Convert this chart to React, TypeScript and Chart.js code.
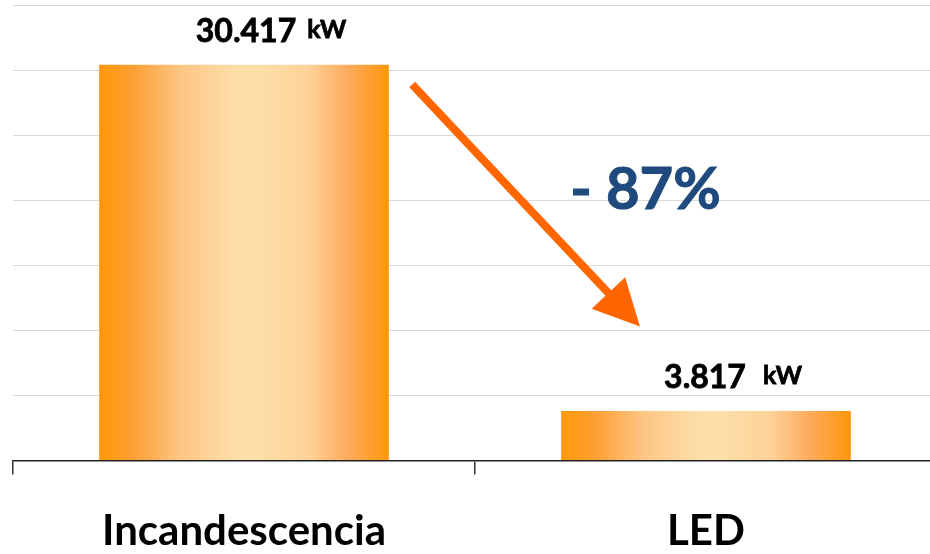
import React, { useEffect, useRef } from "react";
import { Chart, registerables } from "chart.js";

Chart.register(...registerables);

const categories = ["Incandescencia", "LED"];
const powerKW = [30.417, 3.817];
const unitLabel = "kW";
const yMax = 35;
const yStep = 5;

// Annotation anchors in data space (category index, value)
const arrowFrom = [0.364, 28.9];
const arrowTo = [0.857, 10.3];
const percentAnchor = [0.706, 19.3];

const FONT = "Lato, 'Open Sans', sans-serif";
const BAR_PCT = 0.627;
const ARROW_COLOR = "#FF6600";
const PCT_COLOR = "#1F4A7E";

function barGradient(ctx: any) {
  const chart = ctx.chart;
  if (!chart.chartArea || ctx.dataIndex === undefined) return "#FDB25E";
  const xs = chart.scales.x;
  const cx = xs.getPixelForValue(ctx.dataIndex);
  const w = (xs.width / categories.length) * BAR_PCT;
  const g = chart.ctx.createLinearGradient(cx - w / 2, 0, cx + w / 2, 0);
  g.addColorStop(0, "#FF9808");
  g.addColorStop(0.12, "#FDA035");
  g.addColorStop(0.28, "#FDC583");
  g.addColorStop(0.45, "#FDDCA6");
  g.addColorStop(0.55, "#FDDEA9");
  g.addColorStop(0.72, "#FDD399");
  g.addColorStop(0.86, "#FDAA5C");
  g.addColorStop(1, "#FF970A");
  return g;
}

const annotationPlugin = {
  id: "annotations",
  afterDatasetsDraw(chart: any) {
    const { ctx } = chart;
    const xs = chart.scales.x;
    const ys = chart.scales.y;
    const meta = chart.getDatasetMeta(0);
    ctx.save();
    // value labels
    meta.data.forEach((bar: any, i: number) => {
      const num = powerKW[i].toFixed(3);
      ctx.font = `bold 32px ${FONT}`;
      const nw = ctx.measureText(num).width;
      ctx.font = `bold 25px ${FONT}`;
      const uw = ctx.measureText(unitLabel).width;
      const gap = i === 0 ? 11 : 17;
      const total = nw + gap + uw;
      const cx = bar.x + 27;
      const left = cx - total / 2;
      const base = bar.y - 23;
      ctx.fillStyle = "#000";
      ctx.strokeStyle = "#000";
      ctx.lineWidth = 0.8;
      ctx.textBaseline = "alphabetic";
      ctx.textAlign = "left";
      ctx.font = `bold 32px ${FONT}`;
      ctx.fillText(num, left, base);
      ctx.strokeText(num, left, base);
      ctx.font = `bold 25px ${FONT}`;
      ctx.fillText(unitLabel, left + nw + gap, base - 4);
      ctx.strokeText(unitLabel, left + nw + gap, base - 4);
    });
    // arrow
    const x1 = xs.getPixelForValue(arrowFrom[0]);
    const y1 = ys.getPixelForValue(arrowFrom[1]);
    const x2 = xs.getPixelForValue(arrowTo[0]);
    const y2 = ys.getPixelForValue(arrowTo[1]);
    const ang = Math.atan2(y2 - y1, x2 - x1);
    const headLen = 46;
    const headHalf = 23;
    const bx = x2 - headLen * Math.cos(ang);
    const by = y2 - headLen * Math.sin(ang);
    ctx.strokeStyle = ARROW_COLOR;
    ctx.lineWidth = 8;
    ctx.lineCap = "butt";
    ctx.beginPath();
    ctx.moveTo(x1, y1);
    ctx.lineTo(bx + 2 * Math.cos(ang), by + 2 * Math.sin(ang));
    ctx.stroke();
    ctx.fillStyle = ARROW_COLOR;
    ctx.beginPath();
    ctx.moveTo(x2, y2);
    ctx.lineTo(bx + headHalf * Math.sin(ang), by - headHalf * Math.cos(ang));
    ctx.lineTo(bx - headHalf * Math.sin(ang), by + headHalf * Math.cos(ang));
    ctx.closePath();
    ctx.fill();
    // percentage
    const pct = Math.round((1 - powerKW[1] / powerKW[0]) * 100);
    ctx.font = `bold 58px ${FONT}`;
    ctx.fillStyle = PCT_COLOR;
    ctx.strokeStyle = PCT_COLOR;
    ctx.lineWidth = 1;
    ctx.textAlign = "left";
    ctx.textBaseline = "alphabetic";
    const px = xs.getPixelForValue(percentAnchor[0]);
    const py = ys.getPixelForValue(percentAnchor[1]);
    ctx.fillText(`- ${pct}%`, px, py);
    ctx.strokeText(`- ${pct}%`, px, py);
    ctx.restore();
  },
};

export default function App() {
  const ref = useRef<HTMLCanvasElement | null>(null);
  useEffect(() => {
    if (!ref.current) return;
    const chart = new Chart(ref.current, {
      type: "bar",
      data: {
        labels: categories,
        datasets: [
          {
            data: powerKW,
            backgroundColor: barGradient as any,
            borderWidth: 0,
            barPercentage: BAR_PCT,
            categoryPercentage: 1,
          },
        ],
      },
      options: {
        animation: false,
        responsive: true,
        maintainAspectRatio: false,
        layout: { padding: { left: 13, top: 5, right: 0, bottom: 0 } },
        plugins: { legend: { display: false }, tooltip: { enabled: false } },
        scales: {
          x: {
            grid: {
              display: true,
              drawOnChartArea: false,
              drawTicks: true,
              tickLength: 14,
              color: "#333",
              lineWidth: 1.5,
              offset: true,
            },
            border: { display: true, color: "#222", width: 1.5 },
            ticks: {
              color: "#000",
              font: { family: FONT, size: 42, weight: "bold" },
              padding: 32,
            },
          },
          y: {
            min: 0,
            max: yMax,
            ticks: { display: false, stepSize: yStep },
            grid: { color: "#D9D9D9", lineWidth: 1, drawTicks: false },
            border: { display: false },
          },
        },
      },
      plugins: [annotationPlugin],
    });
    return () => chart.destroy();
  }, []);
  return (
    <div style={{ position: "fixed", left: 0, top: 0, width: 930, height: 554, overflow: "hidden", background: "#fff" }}>
      <div style={{ position: "relative", width: 937, height: 589 }}>
        <canvas ref={ref} />
      </div>
    </div>
  );
}
